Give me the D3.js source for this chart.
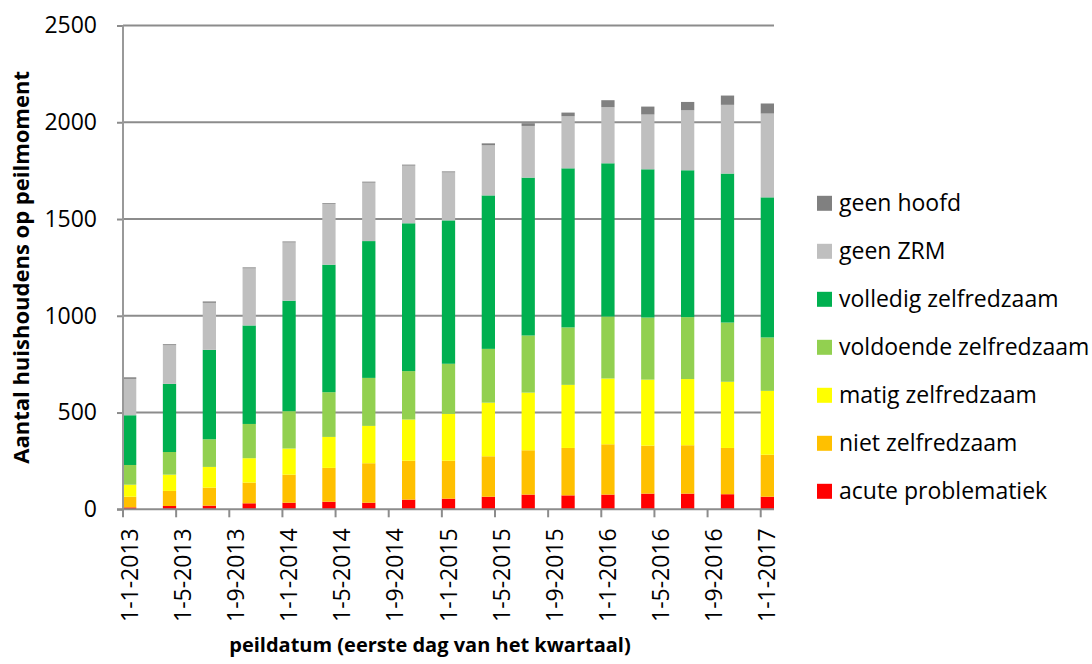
<!DOCTYPE html>
<html>
<head>
<meta charset="utf-8">
<script src="https://cdn.jsdelivr.net/npm/d3@7"></script>
<style>
  body { margin: 0; background: #fff; }
  #graf { width: 1092px; height: 664px; }
  text { font-family: 'Open Sans', 'Noto Sans', sans-serif; fill: #000; }
  .titel { font-weight: bold; }
</style>
</head>
<body>
<div id="graf"></div>
<script>
// I. Data (per kwartaal, aantal huishoudens)
peildata = ['2013-01-01', '2013-04-01', '2013-07-01', '2013-10-01',
            '2014-01-01', '2014-04-01', '2014-07-01', '2014-10-01',
            '2015-01-01', '2015-04-01', '2015-07-01', '2015-10-01',
            '2016-01-01', '2016-04-01', '2016-07-01', '2016-10-01',
            '2017-01-01']

acute     = [10, 17, 19, 31, 34, 39, 34, 50, 55, 65, 76, 72, 76, 81, 81, 78, 65]
niet      = [55, 78, 93, 107, 145, 175, 204, 201, 196, 209, 229, 245, 260, 248, 250, 239, 217]
matig     = [62, 84, 107, 126, 135, 160, 193, 213, 242, 277, 298, 326, 340, 341, 342, 342, 330]
voldoende = [102, 117, 143, 177, 193, 231, 248, 250, 259, 278, 295, 297, 320, 321, 320, 306, 276]
volledig  = [257, 352, 462, 509, 571, 659, 707, 764, 741, 793, 816, 822, 792, 766, 759, 770, 724]
geenZRM   = [188, 200, 243, 295, 301, 314, 302, 298, 248, 259, 267, 269, 290, 283, 310, 355, 433]
geenHoofd = [8, 5, 7, 5, 5, 4, 5, 5, 5, 10, 14, 19, 36, 41, 43, 48, 52]

yTicks = [0, 500, 1000, 1500, 2000, 2500]

// volgorde van onder naar boven
series = [
  { key: 'acute',     naam: 'acute problematiek',    kleur: '#FF0000', waarden: acute },
  { key: 'niet',      naam: 'niet zelfredzaam',      kleur: '#FFC000', waarden: niet },
  { key: 'matig',     naam: 'matig zelfredzaam',     kleur: '#FFFF00', waarden: matig },
  { key: 'voldoende', naam: 'voldoende zelfredzaam', kleur: '#92D050', waarden: voldoende },
  { key: 'volledig',  naam: 'volledig zelfredzaam',  kleur: '#00B050', waarden: volledig },
  { key: 'geenZRM',   naam: 'geen ZRM',              kleur: '#BFBFBF', waarden: geenZRM },
  { key: 'geenHoofd', naam: 'geen hoofd',            kleur: '#808080', waarden: geenHoofd }
]

// II. Configuratie
ancho_total = 1092
alto_total = 664
margins = { top: 25.5, left: 123, right: 318, bottom: 154.7 }
ancho = ancho_total - margins.left - margins.right
alto  = alto_total - margins.top - margins.bottom

parse = d3.timeParse('%Y-%m-%d')
maand = d3.timeFormat('%Y-%m')
labelFmt = d3.timeFormat('%-d-%-m-%Y')

// datumas op maandbasis, zoals een Excel datumas
eerste = parse(peildata[0])
laatste = parse(peildata[peildata.length - 1])
maanden = d3.timeMonth.range(eerste, d3.timeMonth.offset(laatste, 1))
tickMaanden = maanden.filter((d, i) => i % 4 == 0)

rows = peildata.map((p, i) => {
  r = { datum: maand(parse(p)) }
  series.forEach(s => r[s.key] = s.waarden[i])
  return r
})

stacked = d3.stack().keys(series.map(s => s.key))(rows)

svg = d3.select('#graf').append('svg')
        .attr('width', ancho_total)
        .attr('height', alto_total)

g = svg.append('g')
       .attr('transform', `translate(${margins.left}, ${margins.top})`)

x = d3.scaleBand()
      .domain(maanden.map(maand))
      .range([0, ancho])
      .padding(0)

y = d3.scaleLinear()
      .domain([0, 2500])
      .range([alto, 0])

color = d3.scaleOrdinal()
          .domain(series.map(s => s.key))
          .range(series.map(s => s.kleur))

// III. Rasterlijnen
g.append('g')
  .selectAll('line')
  .data(yTicks.filter(d => d > 0))
  .enter().append('line')
    .attr('x1', 0)
    .attr('x2', ancho)
    .attr('y1', d => y(d))
    .attr('y2', d => y(d))
    .attr('stroke', '#8c8c8c')
    .attr('stroke-width', 2)

// IV. Staven
g.append('g')
  .selectAll('g')
  .data(stacked)
  .enter().append('g')
    .attr('fill', d => color(d.key))
  .selectAll('rect')
  .data(d => d)
  .enter().append('rect')
    .attr('x', d => x(d.data.datum))
    .attr('width', x.bandwidth())
    .attr('y', d => y(d[1]))
    .attr('height', d => y(d[0]) - y(d[1]))

// V. Assen
yAxisCall = d3.axisLeft(y)
              .tickValues(yTicks)
              .tickFormat(d3.format('d'))
              .tickSize(6)
              .tickPadding(20)
yAxisGroup = g.append('g').call(yAxisCall)
yAxisGroup.select('.domain').remove()
yAxisGroup.selectAll('line').attr('stroke', '#8c8c8c').attr('stroke-width', 2)
yAxisGroup.selectAll('text')
  .style('font-size', '23px')
  .style('font-family', "'Open Sans', sans-serif")
  .attr('fill', '#000')

// verticale as
g.append('line')
  .attr('x1', 0).attr('x2', 0)
  .attr('y1', 0).attr('y2', alto)
  .attr('stroke', '#999')
  .attr('stroke-width', 2)

// horizontale as
g.append('line')
  .attr('x1', -6).attr('x2', ancho)
  .attr('y1', alto).attr('y2', alto)
  .attr('stroke', '#8c8c8c')
  .attr('stroke-width', 2)

xAxisGroup = g.append('g')
              .attr('transform', `translate(0, ${alto})`)

xAxisGroup.selectAll('line')
  .data(tickMaanden)
  .enter().append('line')
    .attr('x1', d => x(maand(d)))
    .attr('x2', d => x(maand(d)))
    .attr('y1', 0)
    .attr('y2', 8)
    .attr('stroke', '#8c8c8c')
    .attr('stroke-width', 2)

xAxisGroup.selectAll('text')
  .data(tickMaanden)
  .enter().append('text')
    .attr('transform', d => `translate(${x(maand(d)) + x.bandwidth() / 2}, 19) rotate(-90)`)
    .attr('text-anchor', 'end')
    .attr('dy', '0.35em')
    .style('font-size', '23px')
    .text(d => labelFmt(d))

// VI. Titels
svg.append('text')
  .attr('class', 'titel')
  .attr('x', 430)
  .attr('y', 652)
  .attr('text-anchor', 'middle')
  .style('font-size', '20px')
  .text('peildatum (eerste dag van het kwartaal)')

svg.append('text')
  .attr('class', 'titel')
  .attr('transform', `translate(21, ${margins.top + alto / 2}) rotate(-90)`)
  .attr('text-anchor', 'middle')
  .attr('dy', '0.35em')
  .style('font-size', '22px')
  .text('Aantal huishoudens op peilmoment')

// VII. Legenda
legenda = svg.append('g')
  .selectAll('g')
  .data(series.slice().reverse())
  .enter().append('g')
    .attr('transform', (d, i) => `translate(817, ${203.3 + i * 48})`)

legenda.append('rect')
  .attr('x', 0)
  .attr('y', -7.5)
  .attr('width', 15)
  .attr('height', 15)
  .attr('fill', d => d.kleur)

legenda.append('text')
  .attr('x', 22)
  .attr('dy', '0.35em')
  .style('font-size', '23px')
  .text(d => d.naam)
</script>
</body>
</html>
